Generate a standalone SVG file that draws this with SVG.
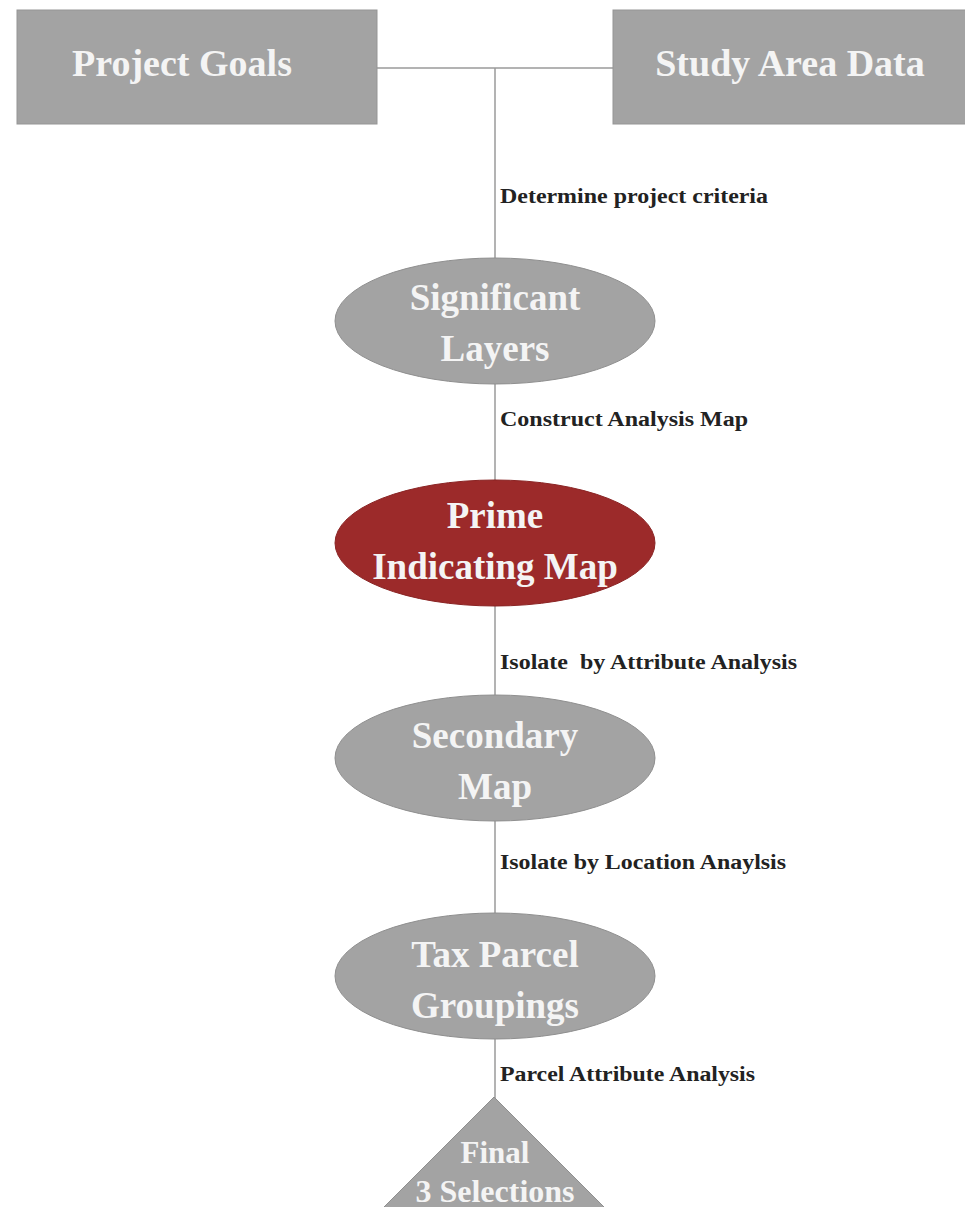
<svg xmlns="http://www.w3.org/2000/svg" width="965" height="1207" viewBox="0 0 965 1207">
<style>
.box{fill:#a3a3a3;stroke:#959595;stroke-width:1}
.ell{fill:#a3a3a3;stroke:#8f8f8f;stroke-width:1}
.red{fill:#9c2a2a;stroke:#8a2424;stroke-width:1}
.nt{font-family:"Liberation Serif","Times New Roman",serif;font-weight:bold;fill:#f4f4f4;text-anchor:middle}
.lb{font-family:"Liberation Serif","Times New Roman",serif;font-weight:bold;fill:#222222;font-size:20px}
.ln{stroke:#9a9a9a;stroke-width:1.5;fill:none}
</style>
<rect width="965" height="1207" fill="#ffffff"/>
<g id="connectors">
<line class="ln" x1="377" y1="68" x2="613" y2="68"/>
<line class="ln" x1="495" y1="68" x2="495" y2="1100"/>
</g>
<g id="labels">
<text class="lb" x="500" y="203" textLength="268" lengthAdjust="spacingAndGlyphs">Determine project criteria</text>
<text class="lb" x="500" y="426" textLength="248" lengthAdjust="spacingAndGlyphs">Construct Analysis Map</text>
<text class="lb" x="500" y="669" textLength="297" lengthAdjust="spacingAndGlyphs" xml:space="preserve">Isolate  by Attribute Analysis</text>
<text class="lb" x="500" y="869" textLength="286" lengthAdjust="spacingAndGlyphs">Isolate by Location Anaylsis</text>
<text class="lb" x="500" y="1081" textLength="255" lengthAdjust="spacingAndGlyphs">Parcel Attribute Analysis</text>
</g>
<g id="project-goals">
<rect class="box" x="17" y="10" width="360" height="114"/>
<text class="nt" x="182" y="76" font-size="38">Project Goals</text>
</g>
<g id="study-area-data">
<rect class="box" x="613" y="10" width="360" height="114"/>
<text class="nt" x="790" y="76" font-size="38">Study Area Data</text>
</g>
<g id="significant-layers">
<ellipse class="ell" cx="495" cy="321" rx="160" ry="63"/>
<text class="nt" x="495" y="310" font-size="37">Significant</text>
<text class="nt" x="495" y="361" font-size="37">Layers</text>
</g>
<g id="prime-indicating-map">
<ellipse class="red" cx="495" cy="543" rx="160" ry="63"/>
<text class="nt" x="495" y="528" font-size="37">Prime</text>
<text class="nt" x="495" y="579" font-size="37">Indicating Map</text>
</g>
<g id="secondary-map">
<ellipse class="ell" cx="495" cy="758" rx="160" ry="63"/>
<text class="nt" x="495" y="748" font-size="37">Secondary</text>
<text class="nt" x="495" y="799" font-size="37">Map</text>
</g>
<g id="tax-parcel-groupings">
<ellipse class="ell" cx="495" cy="976" rx="160" ry="63"/>
<text class="nt" x="495" y="967" font-size="37">Tax Parcel</text>
<text class="nt" x="495" y="1018" font-size="37">Groupings</text>
</g>
<g id="final-selections">
<polygon class="ell" points="494,1097 614,1217 374,1217"/>
<text class="nt" x="495" y="1163" font-size="31">Final</text>
<text class="nt" x="495" y="1202" font-size="32">3 Selections</text>
</g>
</svg>
